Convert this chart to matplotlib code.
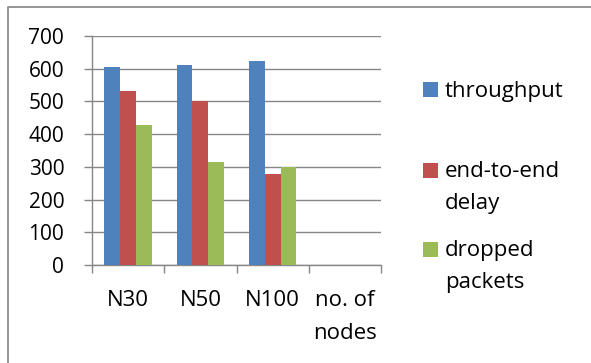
import numpy as np
import matplotlib
matplotlib.use('Agg')
from matplotlib import pyplot as plt
from matplotlib.lines import Line2D
from matplotlib.patches import Rectangle

categories = ['N30', 'N50', 'N100', 'no. of\nnodes']
series_names = ['throughput', 'end-to-end\ndelay', 'dropped\npackets']
throughput = [606, 611, 623]
delay = [532, 500, 278]
dropped = [428, 314, 300]
y_ticks = [0, 100, 200, 300, 400, 500, 600, 700]

COLORS = ['#4F81BD', '#C0504D', '#9BBB59']
GRID = '#868686'
W, H = 591, 363
FS = 16


def px(x, y):
    # pixel position (top-left origin) to figure fraction
    return x / W, 1 - y / H


def main():
    plt.rcParams['font.family'] = ['Open Sans', 'DejaVu Sans']
    fig = plt.figure(figsize=(W / 100, H / 100), dpi=100)
    ax = fig.add_axes([92 / W, 1 - 265 / H, 289 / W, 229 / H])

    values = [throughput, delay, dropped]
    width = 0.22
    x = np.arange(len(throughput))
    for i, vals in enumerate(values):
        ax.bar(x + (i - 1) * width, vals, width, color=COLORS[i], zorder=3)

    ax.set_xlim(-0.5, len(categories) - 0.5)
    ax.set_ylim(0, 700)
    ax.set_yticks(y_ticks)
    ax.set_xticks(np.arange(len(categories)))
    ax.set_xticklabels(categories, linespacing=1.75)
    ax.set_xticks(np.arange(len(categories) + 1) - 0.5, minor=True)

    ax.yaxis.grid(True, color=GRID, lw=1.0, zorder=0)
    for side in ['top', 'right']:
        ax.spines[side].set_visible(False)
    for side in ['left', 'bottom']:
        ax.spines[side].set_color(GRID)
        ax.spines[side].set_linewidth(1.0)

    ax.tick_params(axis='y', length=6, color=GRID, width=1.0,
                   pad=14, labelsize=15)
    ax.tick_params(axis='x', which='major', length=0, pad=18, labelsize=FS)
    ax.tick_params(axis='x', which='minor', length=6, color=GRID, width=1.0)

    # legend on the right, one square per series
    centers = [89.5, 170, 249]
    for i, name in enumerate(series_names):
        sx, sy = px(423, centers[i] + 7.5)
        fig.add_artist(Rectangle((sx, sy), 15.5 / W, 15 / H,
                                 transform=fig.transFigure,
                                 facecolor=COLORS[i], edgecolor='none'))
        for j, line in enumerate(name.split('\n')):
            tx, ty = px(445, centers[i] + 7 + j * 32)
            fig.text(tx, ty, line, fontsize=FS, va='baseline', ha='left')

    # chart area border
    fig.add_artist(Line2D([8 / W, 8 / W, 1.0], [0.0, 1 - 7 / H, 1 - 7 / H],
                          transform=fig.transFigure, color='#8C8C8C', lw=1.3))

    plt.savefig('out.png', dpi=100)
    plt.close(fig)


if __name__ == '__main__':
    main()
